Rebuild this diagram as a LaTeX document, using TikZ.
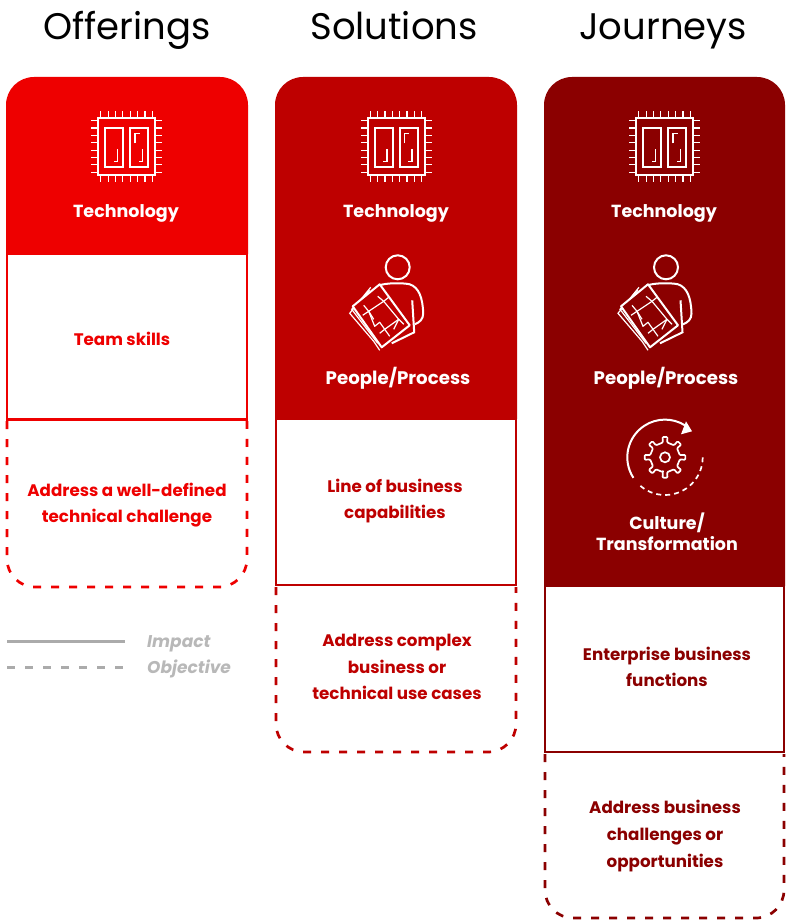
\documentclass[tikz,border=0pt]{standalone}
\usepackage{fontspec}
\setmainfont{Poppins}
\definecolor{cA}{HTML}{EE0000}
\definecolor{cB}{HTML}{BE0000}
\definecolor{cC}{HTML}{8B0000}
\definecolor{cG}{HTML}{ABABAB}
\tikzset{
  x=1pt,y=-1pt,
  title/.style={font=\fontsize{37}{40}\selectfont,text=black,anchor=base,inner sep=0},
  head/.style={font=\fontsize{17.5}{20.5}\selectfont\bfseries,text=white,align=center,inner sep=0},
  body/.style={font=\fontsize{16.7}{26.7}\selectfont\bfseries,align=center,inner sep=0},
  legend/.style={font=\fontsize{17}{20}\selectfont\bfseries\itshape,text=cG!85!white,anchor=west,inner sep=0},
  solidbox/.style={line width=2.7pt},
  dashbox/.style={line width=2.7pt,dash pattern=on 8pt off 10pt,rounded corners=28pt},
  icon/.style={white,line width=2pt},
  thinicon/.style={white,line width=1.2pt},
  pics/chip/.style={code={
    \draw[icon] (-28.5,-28.5) rectangle (28.5,28.5);
    \draw[icon] (-21.5,-18.5) rectangle (-3.5,20.5);
    \draw[icon] (3.5,-18.5) rectangle (21.5,20.5);
    \draw[thinicon] (-9,3) -- (-9,15) -- (-13,15);
    \draw[thinicon] (16,3) -- (16,15) -- (12,15);
    \draw[thinicon] (8.5,-3) -- (8.5,-13) -- (13,-13);
    \foreach \p in {-25.7,-18.4,-11,-3.7,3.7,11,18.4,25.7}{
      \draw[thinicon] (\p,-28.5) -- (\p,-35.5) (\p,28.5) -- (\p,35.5);
      \draw[thinicon] (-28.5,\p) -- (-35.5,\p) (28.5,\p) -- (35.5,\p);
    }
  }},
}
\begin{document}
\begin{tikzpicture}
\useasboundingbox (0,0) rectangle (785,920);
\fill[white] (0,0) rectangle (785,920);

\node[title] (t1) at (127,40) {Offerings};
\node[title] (t2) at (394,40) {Solutions};
\node[title] (t3) at (663,40) {Journeys};

% column 1
\fill[cA] (6,254) [rounded corners=28pt] -- (6,77) -- (248,77) [sharp corners] -- (248,254) -- cycle;
\draw[cA,solidbox] (7,254) rectangle (247,419.5);
\draw[cA,dashbox] (7,421) -- (7,587) -- (247,587) -- (247,421);

% column 2
\fill[cB] (275,419) [rounded corners=28pt] -- (275,77) -- (517,77) [sharp corners] -- (517,419) -- cycle;
\draw[cB,solidbox] (276,419) rectangle (516,585);
\draw[cB,dashbox] (276,587) -- (276,752) -- (516,752) -- (516,587);

% column 3
\fill[cC] (544,586) [rounded corners=28pt] -- (544,77) -- (785,77) [sharp corners] -- (785,586) -- cycle;
\draw[cC,solidbox] (545,586) rectangle (784,752);
\draw[cC,dashbox] (545,754) -- (545,918) -- (784,918) -- (784,754);

% chips
\pic at (126.5,146.5) {chip};
\pic at (396,146.5) {chip};
\pic at (664.5,146.5) {chip};

% people
\foreach \cx/\cc in {397.7/cB,666/cC}{
\begin{scope}[shift={(\cx,267.3)}]
  \draw[icon] (0,0) circle (12);
  \draw[icon] (-18,18) .. controls (-12,15.5) and (6,15.5) .. (12,17)
     .. controls (21,20) and (25,30) .. (25.5,46) .. controls (25.5,52) and (22,55) .. (17,57);
  \draw[icon] (14.5,33) -- (16.5,65) -- (-6,76);
  \draw[thinicon] (-27,20) -- (-48,46) -- (-24,74) -- (-18,83);
  \draw[thinicon] (-28,23) -- (-46,42) -- (-20,76);
  \fill[\cc] (-45,39) -- (-18,17) -- (12,58) -- (-16,80) -- cycle;
  \draw[icon,line join=round] (-45,39) -- (-18,17) -- (12,58) -- (-16,80) -- cycle;
  \draw[thinicon,line join=round] (-29,44) -- (-14,34) -- (1,52) -- (-13,62) -- (-18,55) -- (-23,59) -- cycle;
  \draw[thinicon] (-34,38) -- (-29,44) -- (-24,52)
     (-14,34) -- (-20,29) (-14,34) -- (-9,30)
     (1,52) -- (6,57) (1,52) -- (-4,62)
     (-13,62) -- (-8,69) (-13,62) -- (-18,66)
     (-29,44) -- (-35,48);
\end{scope}
}

% transformation icon
\begin{scope}[shift={(665,457.3)}]
  \draw[icon,line width=1.7pt,line join=round,rounded corners=1pt]
    (98:15)
    \foreach \a in {90,45,0,-45,-90,-135,180,135}{
      -- (\a+7:20.5) -- (\a-7:20.5) -- (\a-8:15) -- (\a-37:15)
    } -- cycle;
  \draw[icon,line width=1.7pt] (0,0) circle (5);
  \draw[icon] (147:37.7) arc[start angle=147,end angle=302,radius=37.7];
  \draw[icon,line width=1.7pt,dash pattern=on 5pt off 4pt] (0:37.7) arc[start angle=0,end angle=134,radius=37.7];
  \fill[white] (27,-26) -- (21,-36) -- (16,-23) -- cycle;
\end{scope}

% header labels
\node[head] (h1) at (126,213) {Technology};
\node[head] (h2) at (396,213) {Technology};
\node[head] (h3) at (664,213) {Technology};
\node[head,font=\fontsize{18.2}{20.5}\selectfont\bfseries] (p2) at (398,378) {People/Process};
\node[head,font=\fontsize{18.2}{20.5}\selectfont\bfseries] (p3) at (666,378) {People/Process};
\node[head] (c3) at (667,532) {Culture/\\Transformation};

% box labels
\node[body,text=cA] (b1) at (122,339) {Team skills};
\node[body,text=cA] (o1) at (127,505) {Address a well-defined\\technical challenge};
\node[body,text=cB] (b2) at (395,501) {Line of business\\capabilities};
\node[body,text=cB] (o2) at (397,667) {Address complex\\business or\\technical use cases};
\node[body,text=cC] (b3) at (667,667) {Enterprise business\\functions};
\node[body,text=cC] (o3) at (665,836) {Address business\\challenges or\\opportunities};

% legend
\coordinate (l1a) at (7,641);
\coordinate (l1b) at (125,641);
\coordinate (l2a) at (7,667);
\coordinate (l2b) at (125,667);
\draw[cG,line width=3pt] (l1a) -- (l1b);
\draw[cG,line width=3pt,dash pattern=on 8pt off 10pt] (l2a) -- (l2b);
\node[legend] (li) at (147,643.5) {Impact};
\node[legend] (lo) at (147,669) {Objective};
\end{tikzpicture}
\end{document}
